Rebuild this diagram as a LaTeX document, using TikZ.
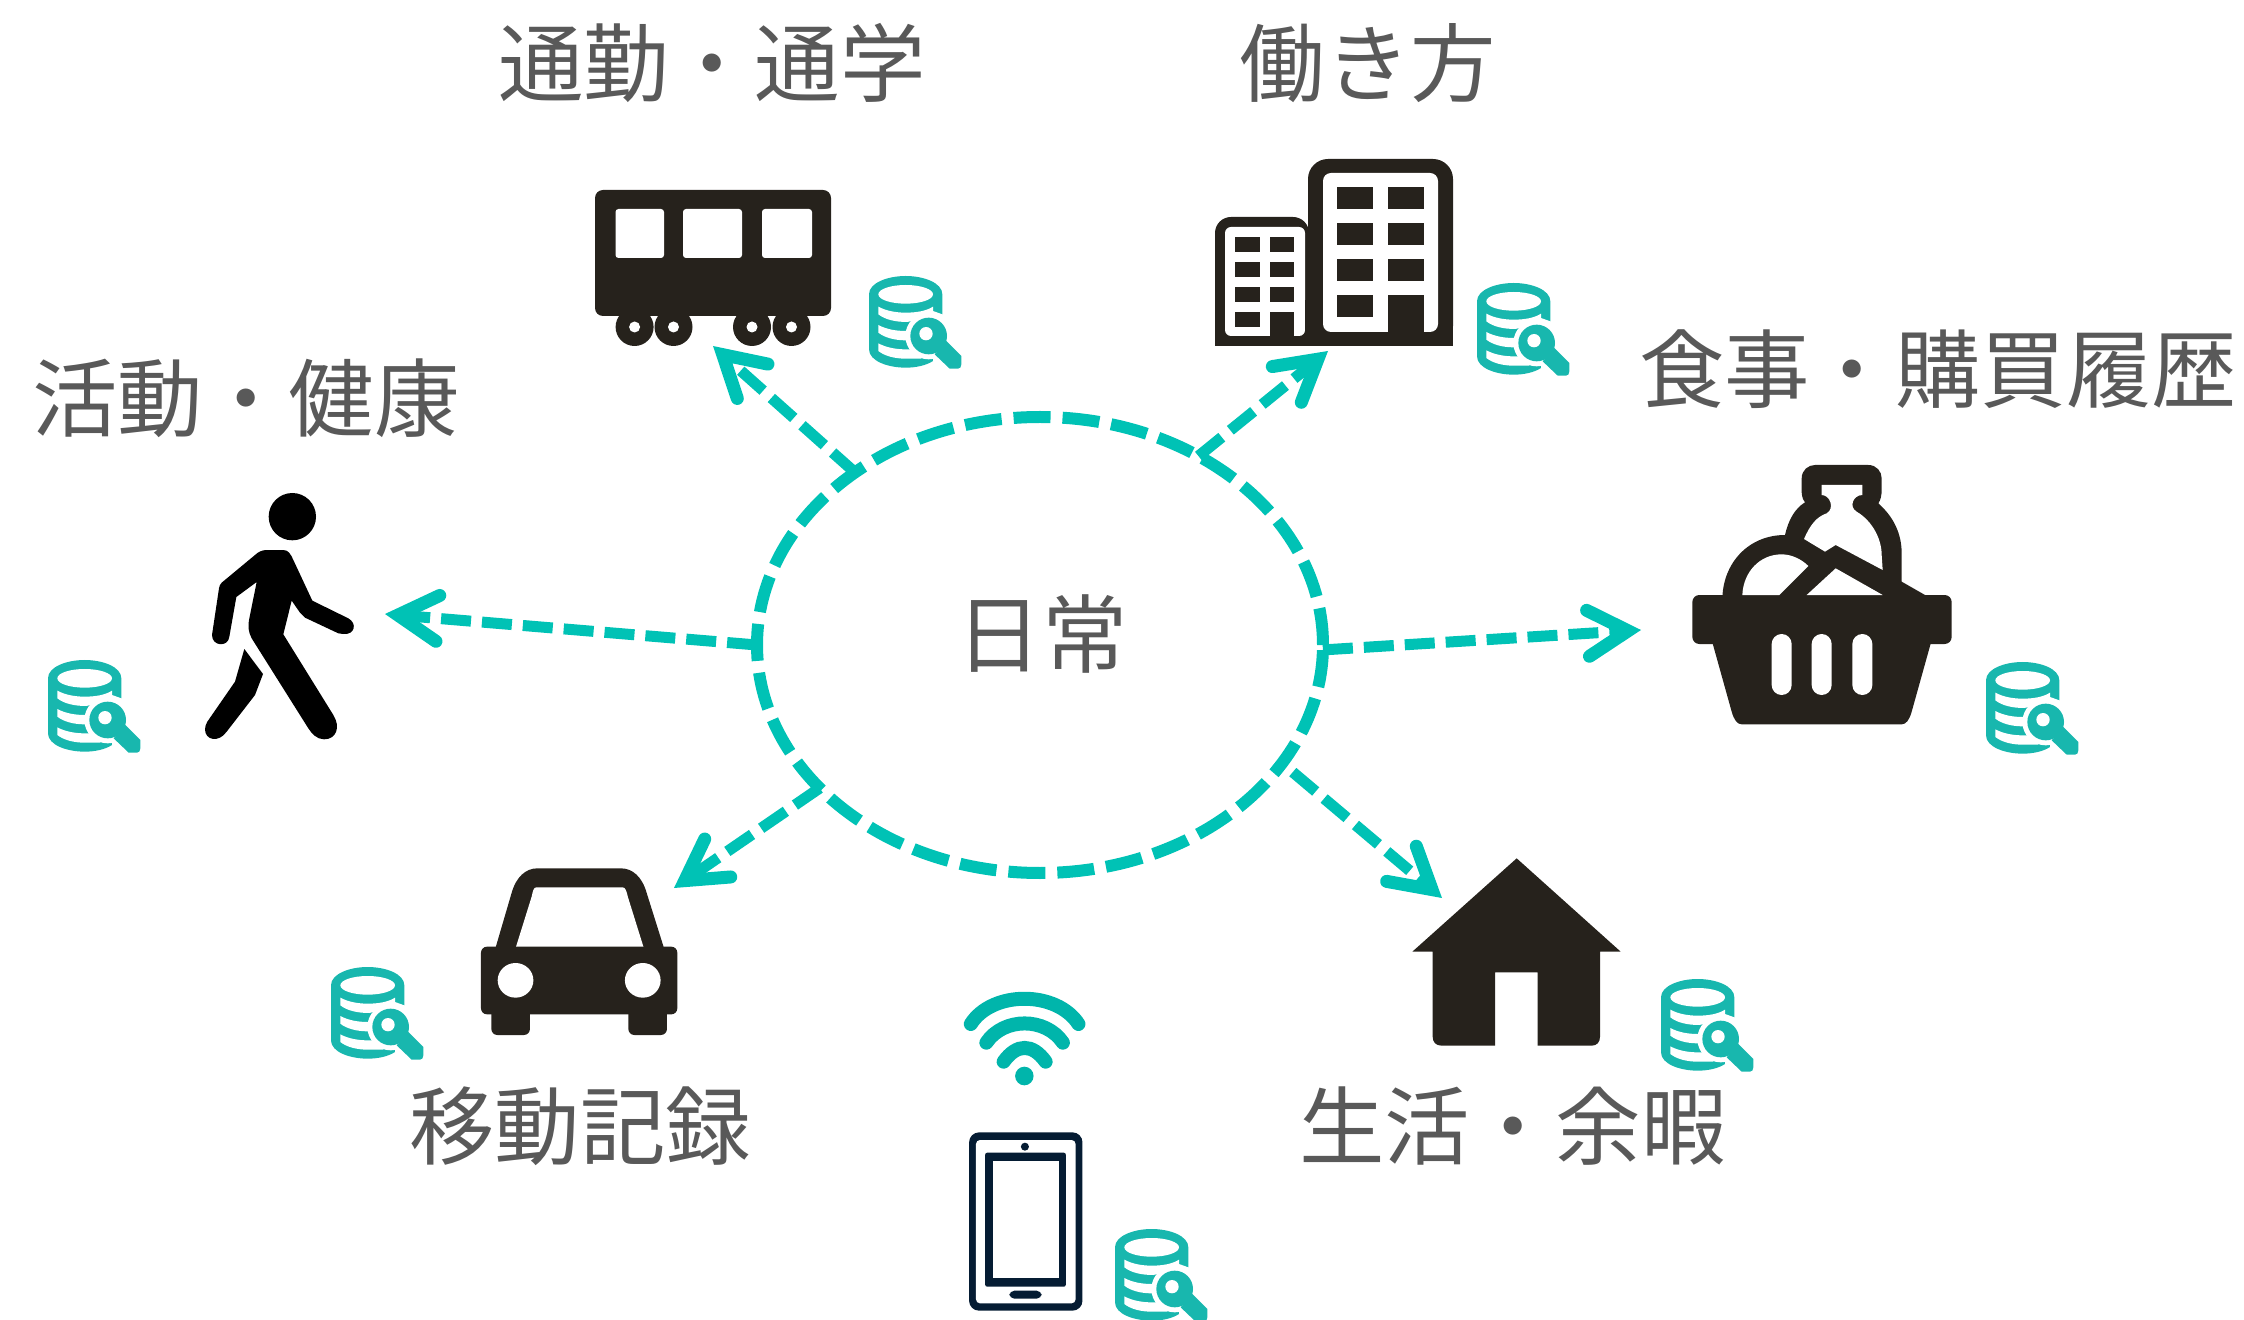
\documentclass[tikz,border=0pt]{standalone}
\usepackage{fontspec}
\newfontfamily\cjk{Noto Sans CJK JP}
\usetikzlibrary{arrows.meta,shapes.geometric}
\definecolor{ink}{HTML}{26221C}
\definecolor{dbteal}{HTML}{18B7AE}
\definecolor{arrowteal}{HTML}{00C2B5}
\definecolor{wifiteal}{HTML}{00B5AB}
\definecolor{navy}{HTML}{051C33}
\definecolor{labelgrey}{HTML}{595959}
\tikzset{
  x=0.5pt,y=-0.5pt,
  lab/.style={font=\cjk\fontsize{42.7}{50}\selectfont,text=labelgrey,inner sep=0pt},
  ringshape/.style={ellipse,draw=arrowteal,line width=6pt,dash pattern=on 18.5pt off 6pt,
    minimum width=283pt,minimum height=228pt,inner sep=0pt,outer sep=0pt},
  flow/.style={draw=arrowteal,line width=5.5pt,dash pattern=on 15pt off 5.5pt,
    -{Straight Barb[length=20pt,width=23pt,line width=6.5pt,line cap=round,line join=miter]}},
  zoomthree/.style={x=0.16667pt,y=-0.16667pt},
  dbicon/.pic={
    \begin{scope}[x=0.16667pt,y=-0.16667pt,shift={(-143,-630)}]
      \fill[dbteal] (143,685) .. controls (143,650) and (200,630) .. (253,630)
        .. controls (306,630) and (363,650) .. (363,685) -- (363,850) -- (335,885)
        .. controls (315,898) and (285,905) .. (253,905)
        .. controls (200,905) and (143,885) .. (143,850) -- cycle;
      \fill[white] (253,685) ellipse [x radius=82,y radius=28];
      \fill[white] (171,722) .. controls (195,735) and (225,740) .. (253,740)
        .. controls (285,740) and (315,735) .. (335,722) -- (335,750) -- (258,768)
        .. controls (220,768) and (190,760) .. (171,745) -- cycle;
      \fill[white] (171,777) .. controls (195,790) and (225,795) .. (253,795) -- (300,795) -- (300,823) -- (253,823)
        .. controls (220,823) and (190,815) .. (171,800) -- cycle;
      \fill[white] (171,832) .. controls (195,845) and (225,850) .. (253,850) -- (300,850) -- (300,878) -- (253,878)
        .. controls (220,878) and (190,870) .. (171,855) -- cycle;
      \fill[white] (322,810) circle [radius=70];
      \fill[white] (335,735) -- (363,745) -- (372,745) -- (372,895) -- (335,885) -- cycle;
      \fill[dbteal] (322,810) circle [radius=55];
      \fill[dbteal] (375,825) -- (420,870) -- (420,895) .. controls (420,903) and (416,908) .. (410,908)
        -- (385,908) -- (340,865) -- cycle;
      \fill[white] (314,803) circle [radius=20];
    \end{scope}
  }
}
\begin{document}
\begin{tikzpicture}
\useasboundingbox (0,0) rectangle (2244,1320);

% centre ring and label
\node[ringshape] (ring) at (1040,645) {};
\node[lab] (daily) at (1042,634) {日常};

% labels
\node[lab] (commute) at (712,63) {通勤・通学};
\node[lab] (work) at (1368,63) {働き方};
\node[lab] (health) at (246,398) {活動・健康};
\node[lab] (food) at (1938,369) {食事・購買履歴};
\node[lab] (move) at (580,1126) {移動記録};
\node[lab] (life) at (1513,1126) {生活・余暇};

% connector ends
\coordinate (toTrain) at (713,346);
\coordinate (toBuilding) at (1328,351);
\coordinate (toWalker) at (385,614);
\coordinate (toBasket) at (1641,630);
\coordinate (toCar) at (674,888);
\coordinate (toHouse) at (1442,898);

\draw[flow] (ring.137.4) -- (toTrain);
\draw[flow] (ring.50) -- (toBuilding);
\draw[flow] (ring.180) -- (toWalker);
\draw[flow] (ring.-1) -- (toBasket);
\draw[flow] (ring.213.9) -- (toCar);
\draw[flow,shorten <=7pt] (ring.-26) -- (toHouse);

% train
\fill[ink,rounded corners=4pt] (595,190) rectangle (831,316);
\foreach \cx in {634.6,673.5,752,791.5}{
  \fill[ink] (\cx,327) circle [radius=19];
  \fill[white] (\cx,327) ellipse [x radius=5.5,y radius=5.5];
}
\fill[white,rounded corners=1.5pt] (615.5,209) rectangle (664,258);
\fill[white,rounded corners=1.5pt] (683,209) rectangle (742,258);
\fill[white,rounded corners=1.5pt] (762,209) rectangle (812,258);

% buildings
\fill[ink,rounded corners=8pt] (1215,217) -- (1215,346) -- (1309,346) -- (1309,217) -- cycle;
\fill[ink] (1215,300) rectangle (1309,346);
\fill[white,rounded corners=3pt] (1225,336) -- (1225,227) -- (1305,227) -- (1305,336) -- cycle;
\fill[ink,rounded corners=10pt] (1308,346) -- (1308,159) -- (1453,159) -- (1453,346) -- cycle;
\fill[ink] (1308,300) rectangle (1453,346);
\fill[white,rounded corners=4pt] (1323,332) -- (1323,173) -- (1438,173) -- (1438,332) -- cycle;
\fill[ink] (1305,300) rectangle (1310,346);
\foreach \ry in {187,223,259,295}{
  \fill[ink] (1337,\ry) rectangle +(36,22);
}
\foreach \ry in {187,223,259}{
  \fill[ink] (1388,\ry) rectangle +(36,22);
}
\fill[ink] (1388,295) rectangle (1424,332);
\foreach \ry in {237,262,287,312}{
  \fill[ink] (1235,\ry) rectangle +(25,15);
}
\foreach \ry in {237,262,287}{
  \fill[ink] (1270,\ry) rectangle +(24,15);
}
\fill[ink] (1270,312) rectangle (1294,336);

% walker
\begin{scope}[shift={(0,450)},zoomthree]
  \fill[black] (877,200) circle [radius=71];
  \fill[black] (800,300) -- (850,300) .. controls (865,300) and (872,312) .. (880,330) -- (937,452)
    -- (1045,505) .. controls (1072,520) and (1065,555) .. (1030,552) -- (1015,550) -- (915,503)
    .. controls (908,498) and (905,495) .. (900,488) -- (875,452) -- (850,553) -- (1000,795)
    .. controls (1022,830) and (1010,868) .. (972,868) .. controls (950,868) and (935,850) .. (925,835)
    -- (755,565) .. controls (745,545) and (743,530) .. (748,505) -- (770,396) -- (709,441) -- (688,560)
    .. controls (685,592) and (636,590) .. (636,555) -- (657,415) .. controls (658,408) and (660,403) .. (665,398)
    -- (765,315) .. controls (775,306) and (785,300) .. (800,300) -- cycle;
  \fill[black] (733,597) -- (789,672) -- (765,735) -- (680,845)
    .. controls (655,880) and (615,870) .. (615,838) .. controls (615,830) and (618,822) .. (622,815)
    -- (705,695) -- cycle;
\end{scope}

% basket
\begin{scope}[shift={(1660,440)},zoomthree]
  % dome, bottle and struts
  \fill[ink] (187,480) .. controls (187,370) and (265,285) .. (375,285)
    .. controls (385,240) and (405,205) .. (435,187)
    .. controls (425,175) and (425,160) .. (425,150) -- (425,115)
    .. controls (425,90) and (445,75) .. (465,75) -- (625,75)
    .. controls (650,75) and (665,95) .. (665,115) -- (665,150)
    .. controls (665,165) and (662,180) .. (655,190)
    .. controls (700,230) and (725,280) .. (725,340) -- (725,425) -- (795,465) -- (795,480) -- cycle;
  \fill[ink,rounded corners=3.5pt] (97,465) rectangle (875,612);
  \fill[ink] (155,600) -- (215,815) .. controls (222,840) and (232,853) .. (245,853) -- (725,853)
    .. controls (738,853) and (748,840) .. (755,815) -- (815,600) -- cycle;
  % whites
  \fill[white] (485,135) -- (607,135) -- (607,165) .. controls (580,165) and (565,200) .. (590,215)
    .. controls (640,245) and (665,300) .. (665,345) -- (668,390) -- (527,315) -- (495,335) -- (432,297)
    .. controls (450,255) and (470,230) .. (500,220) .. controls (525,205) and (510,165) .. (485,165) -- cycle;
  \fill[white] (247,465) .. controls (250,395) and (300,343) .. (365,343)
    .. controls (395,343) and (425,358) .. (445,378) -- (358,465) -- cycle;
  \fill[white] (440,465) -- (527,385) -- (668,465) -- cycle;
  \foreach \sx in {335,455,577}{
    \fill[white,rounded corners=5pt] (\sx,582) rectangle +(60,183);
  }
\end{scope}

% house
\begin{scope}[shift={(1380,840)},zoomthree]
  \fill[ink] (410,55) -- (722,335) -- (660,335) -- (660,590)
    .. controls (660,607) and (650,617) .. (635,617) -- (473,617) -- (473,397) -- (345,397) -- (345,617)
    -- (185,617) .. controls (168,617) and (158,607) .. (158,590) -- (158,335) -- (97,335) -- cycle;
\end{scope}

% car
\begin{scope}[shift={(310,840)},x=0.28785pt,y=-0.16667pt]
  \fill[ink] (322,325) -- (350,160) .. controls (358,110) and (375,85) .. (395,85) -- (540,85)
    .. controls (560,85) and (577,110) .. (585,160) -- (615,325) -- cycle;
  \fill[white] (357,325) -- (385,170) .. controls (387,155) and (388,142) .. (393,142) -- (543,142)
    .. controls (548,142) and (550,155) .. (552,170) -- (580,325) -- cycle;
  \fill[ink,rounded corners=3pt] (297,320) rectangle (638,523);
  \fill[ink,rounded corners=3pt] (315,500) rectangle (382,585);
  \fill[ink,rounded corners=3pt] (553,500) rectangle (620,585);
  \fill[white] (357,421) ellipse [x radius=31,y radius=52];
  \fill[white] (578,421) ellipse [x radius=31,y radius=52];
\end{scope}

% wifi and phone
\begin{scope}[shift={(307,840)},x=0.28785pt,y=-0.16667pt]
  \fill[wifiteal] (1246,708) ellipse [x radius=16,y radius=28];
  \draw[wifiteal,line width=7pt,line cap=round] (1153,552) .. controls (1190,451) and (1302,451) .. (1340,552);
  \draw[wifiteal,line width=7pt,line cap=round] (1180,608) .. controls (1210,531) and (1283,531) .. (1313,608);
  \draw[wifiteal,line width=7pt,line cap=round] (1210,665) .. controls (1233,610) and (1260,610) .. (1283,665);
  \fill[navy,rounded corners=5pt] (1150,877) rectangle (1347,1412);
  \fill[white,rounded corners=2pt] (1162,900) rectangle (1335,1390);
  \fill[navy,rounded corners=1pt] (1178,938) rectangle (1318,1340);
  \fill[white] (1191,962) rectangle (1306,1315);
  \fill[navy] (1247,920) ellipse [x radius=7,y radius=12];
  \fill[navy,rounded corners=2.5pt] (1220,1352) rectangle (1276,1376);
\end{scope}

% database icons
\pic at (869,276) {dbicon};
\pic at (1477,283) {dbicon};
\pic at (48,660) {dbicon};
\pic at (1986,662) {dbicon};
\pic at (331,967) {dbicon};
\pic at (1115,1229) {dbicon};
\pic at (1661,979) {dbicon};
\end{tikzpicture}
\end{document}
